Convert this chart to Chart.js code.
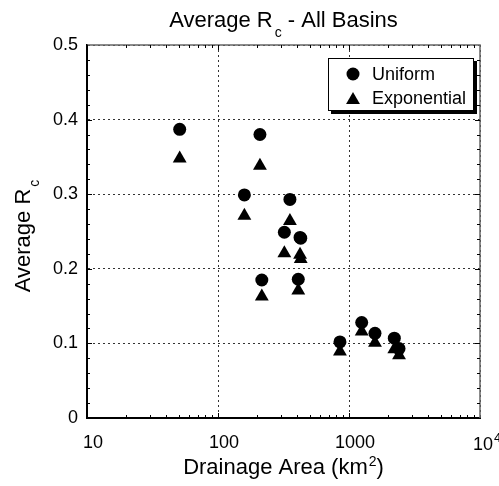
<!DOCTYPE html>
<html>
<head>
<meta charset="utf-8">
<script src="https://cdn.jsdelivr.net/npm/chart.js@4/dist/chart.umd.min.js"></script>
<style>
  html, body { margin: 0; padding: 0; background: #fff; }
  canvas { display: block; }
</style>
</head>
<body>
<canvas id="chart" width="499" height="486"></canvas>
<script>
// Drainage area (km2) for each basin
const areas = [51, 209, 159, 354, 321, 423, 428, 216, 410, 853, 1250, 1579, 2218, 2409];
// Average Rc, uniform distribution
const uniformRc = [0.387, 0.380, 0.299, 0.293, 0.249, 0.242, 0.241, 0.185, 0.186, 0.102, 0.128, 0.1135, 0.107, 0.093];
// Average Rc, exponential distribution
const exponentialRc = [0.348, 0.338, 0.271, 0.264, 0.221, 0.219, 0.213, 0.163, 0.171, 0.089, 0.116, 0.101, 0.092, 0.084];

const xTicks = [10, 100, 1000, 10000];
const yTicks = [0, 0.1, 0.2, 0.3, 0.4, 0.5];

const FONT = "'Liberation Sans', Arial, Helvetica, sans-serif";

const toPoints = (xs, ys) => xs.map((x, i) => ({ x: x, y: ys[i] }));

// text, frame, minor ticks and legend drawn on top of the chart
const decorations = {
    id: 'decorations',
    afterDraw(chart) {
        const ctx = chart.ctx;
        const area = chart.chartArea;
        const xs = chart.scales.x;
        const ys = chart.scales.y;
        ctx.save();

        // top and right frame
        ctx.strokeStyle = '#666';
        ctx.lineWidth = 1.5;
        ctx.beginPath();
        ctx.moveTo(area.left, area.top);
        ctx.lineTo(area.right, area.top);
        ctx.lineTo(area.right, area.bottom);
        ctx.stroke();

        // inward ticks
        ctx.strokeStyle = '#000';
        ctx.lineWidth = 1;
        ctx.beginPath();
        for (let d = 10; d < 10000; d *= 10) {
            for (let k = 1; k <= 9; k++) {
                const px = Math.round(xs.getPixelForValue(k * d)) + 0.5;
                const len = k === 1 ? 5 : 3;
                ctx.moveTo(px, area.bottom); ctx.lineTo(px, area.bottom - len);
                ctx.moveTo(px, area.top); ctx.lineTo(px, area.top + len);
            }
        }
        for (let i = 1; i < 25; i++) {
            const py = Math.round(ys.getPixelForValue(i * 0.02)) + 0.5;
            const len = i % 5 === 0 ? 5 : 3;
            ctx.moveTo(area.left, py); ctx.lineTo(area.left + len, py);
            ctx.moveTo(area.right, py); ctx.lineTo(area.right - len, py);
        }
        ctx.stroke();

        ctx.fillStyle = '#000';
        ctx.textBaseline = 'alphabetic';
        const cx = (area.left + area.right) / 2;

        // title: Average R_c - All Basins
        const big = '22px ' + FONT, small = '14px ' + FONT;
        ctx.font = big;
        const t1 = 'Average R', t2 = ' - All Basins';
        const w1 = ctx.measureText(t1).width, w3 = ctx.measureText(t2).width;
        ctx.font = small;
        const w2 = ctx.measureText('c').width + 2;
        let tx = cx - (w1 + w2 + w3) / 2;
        ctx.textAlign = 'left';
        ctx.font = big;
        ctx.fillText(t1, tx, 27);
        ctx.font = small;
        ctx.fillText('c', tx + w1 + 2, 37);
        ctx.font = big;
        ctx.fillText(t2, tx + w1 + w2, 27);

        // x axis title: Drainage Area (km^2)
        const x1 = 'Drainage Area (km', x3 = ')';
        ctx.font = big;
        const xw1 = ctx.measureText(x1).width, xw3 = ctx.measureText(x3).width;
        ctx.font = small;
        const xw2 = ctx.measureText('2').width + 1;
        tx = cx - (xw1 + xw2 + xw3) / 2;
        ctx.font = big;
        ctx.fillText(x1, tx, 474);
        ctx.font = small;
        ctx.fillText('2', tx + xw1 + 1, 466);
        ctx.font = big;
        ctx.fillText(x3, tx + xw1 + xw2, 474);

        // y axis title: Average R_c (rotated)
        ctx.save();
        ctx.translate(30, 236);
        ctx.rotate(-Math.PI / 2);
        ctx.font = big;
        const yw1 = ctx.measureText(t1).width;
        ctx.font = small;
        const yw2 = ctx.measureText('c').width + 2;
        const ty = -(yw1 + yw2) / 2;
        ctx.font = big;
        ctx.fillText(t1, ty, 0);
        ctx.font = small;
        ctx.fillText('c', ty + yw1 + 2, 9);
        ctx.restore();

        // last x tick label 10^4
        const lx = xs.getPixelForValue(10000);
        ctx.font = '18px ' + FONT;
        ctx.textAlign = 'left';
        const tw = ctx.measureText('10').width;
        ctx.fillText('10', lx - tw / 2 + 3, 450);
        ctx.font = '13px ' + FONT;
        ctx.fillText('4', lx + tw / 2 + 4, 442);

        // legend
        const lg = { l: 328, t: 58, r: 473, b: 110 };
        ctx.fillStyle = '#000';
        ctx.fillRect(lg.l + 3, lg.t + 3, lg.r - lg.l + 1, lg.b - lg.t + 1);
        ctx.fillStyle = '#fff';
        ctx.fillRect(lg.l, lg.t, lg.r - lg.l, lg.b - lg.t);
        ctx.strokeStyle = '#000';
        ctx.lineWidth = 1;
        ctx.strokeRect(lg.l + 0.5, lg.t + 0.5, lg.r - lg.l, lg.b - lg.t);

        ctx.fillStyle = '#000';
        ctx.beginPath();
        ctx.arc(353, 74, 6.5, 0, Math.PI * 2);
        ctx.fill();
        const r = 8;
        ctx.beginPath();
        ctx.moveTo(353, 100 - r);
        ctx.lineTo(353 + 0.866 * r, 100 + 0.5 * r);
        ctx.lineTo(353 - 0.866 * r, 100 + 0.5 * r);
        ctx.closePath();
        ctx.fill();

        ctx.font = '18px ' + FONT;
        ctx.textBaseline = 'middle';
        ctx.fillText('Uniform', 372, 75);
        ctx.fillText('Exponential', 372, 99);

        ctx.restore();
    }
};

new Chart(document.getElementById('chart'), {
    type: 'scatter',
    data: {
        datasets: [{
            label: 'Uniform',
            data: toPoints(areas, uniformRc),
            pointStyle: 'circle',
            pointRadius: 6.5,
            pointBackgroundColor: '#000',
            pointBorderWidth: 0
        }, {
            label: 'Exponential',
            data: toPoints(areas, exponentialRc),
            pointStyle: 'triangle',
            pointRadius: 8,
            pointBackgroundColor: '#000',
            pointBorderWidth: 0
        }]
    },
    options: {
        responsive: false,
        animation: false,
        devicePixelRatio: 1,
        layout: { padding: { top: 45, right: 19, left: 0, bottom: 0 } },
        plugins: {
            legend: { display: false },
            title: { display: false },
            tooltip: { enabled: false }
        },
        scales: {
            x: {
                type: 'logarithmic',
                min: 10,
                max: 10000,
                afterBuildTicks: (scale) => { scale.ticks = xTicks.map(v => ({ value: v })); },
                afterFit: (scale) => { scale.height = 68; },
                ticks: {
                    color: '#000',
                    font: { size: 18, family: FONT },
                    padding: 14,
                    labelOffset: 6,
                    maxRotation: 0,
                    autoSkip: false,
                    callback: (v) => v === 10000 ? '' : String(v)
                },
                grid: { color: '#333', lineWidth: 1, drawTicks: false },
                border: { color: '#000', width: 2, dash: [2, 3] }
            },
            y: {
                min: 0,
                max: 0.5,
                afterBuildTicks: (scale) => { scale.ticks = yTicks.map(v => ({ value: v })); },
                afterFit: (scale) => { scale.width = 87; },
                ticks: {
                    color: '#000',
                    font: { size: 18, family: FONT },
                    padding: 9,
                    callback: (v) => v === 0 ? '0' : v.toFixed(1)
                },
                grid: { color: '#333', lineWidth: 1, drawTicks: false },
                border: { color: '#000', width: 2, dash: [2, 3] }
            }
        }
    },
    plugins: [decorations]
});
</script>
</body>
</html>
